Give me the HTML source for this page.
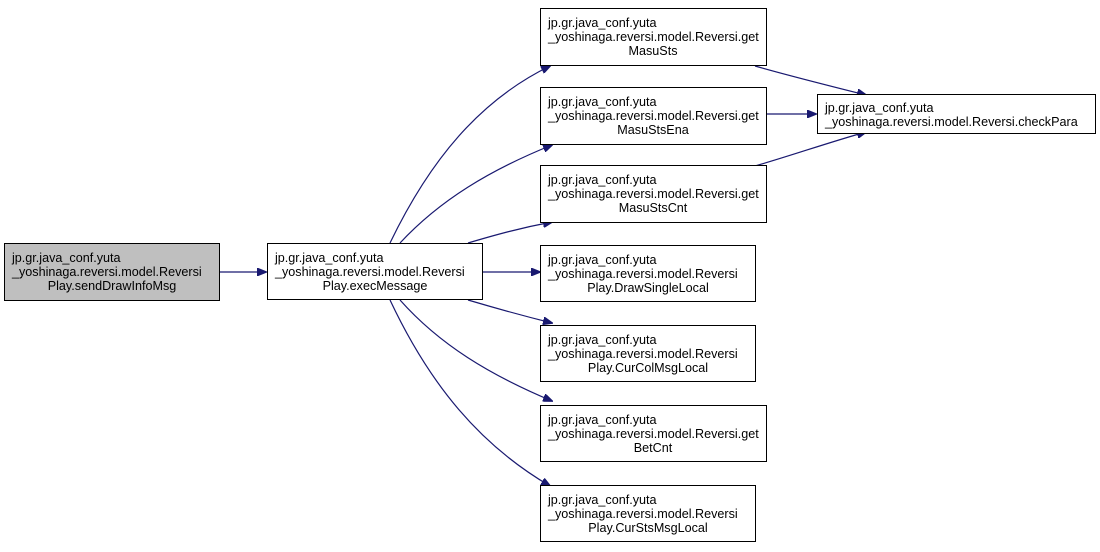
<!DOCTYPE html>
<html><head><meta charset="utf-8"><style>
body{margin:0;background:#fff;width:1100px;height:547px;overflow:hidden}
svg text{font-family:"Liberation Sans",Arial,sans-serif;font-size:12.6px;fill:#000}
</style></head><body>
<svg width="1100" height="547" viewBox="0 0 1100 547">
<defs><marker id="a" markerWidth="10" markerHeight="8" refX="9" refY="4" orient="auto" markerUnits="userSpaceOnUse"><path d="M0,0 L10,4 L0,8 z" fill="#191970" stroke="#191970"/></marker></defs>
<g fill="none" stroke="#191970" stroke-width="1.2" marker-end="url(#a)">
<path d="M220,272 L266,272"/>
<path d="M390,243 C430,160 480,100 550,66"/>
<path d="M400,243 C440,200 490,170 552,145"/>
<path d="M468,243 C495,235 520,228 552,222"/>
<path d="M483,272 L540,272"/>
<path d="M468,300 C495,308 520,315 552,323"/>
<path d="M400,300 C440,345 490,375 552,401"/>
<path d="M390,300 C430,385 480,445 550,486"/>
<path d="M755,66 C790,76 830,86 866,95"/>
<path d="M766,114 L816,114"/>
<path d="M755,166 C790,156 830,142 866,132"/>
</g>
<g stroke="#000" stroke-width="1" fill="#fff">
<rect x="4.5" y="243.5" width="215" height="57" fill="#bfbfbf"/>
<rect x="267.5" y="243.5" width="215" height="56"/>
<rect x="540.5" y="8.5" width="226" height="57"/>
<rect x="540.5" y="87.5" width="226" height="57"/>
<rect x="540.5" y="165.5" width="226" height="57"/>
<rect x="540.5" y="245.5" width="215" height="56"/>
<rect x="540.5" y="325.5" width="215" height="56"/>
<rect x="540.5" y="405.5" width="226" height="56"/>
<rect x="540.5" y="485.5" width="215" height="56"/>
<rect x="817.5" y="94.5" width="278" height="39"/>
</g>
<g>
<text x="12" y="262">jp.gr.java_conf.yuta</text><text x="12" y="276">_yoshinaga.reversi.model.Reversi</text><text x="112" y="290" text-anchor="middle">Play.sendDrawInfoMsg</text>
<text x="275" y="262">jp.gr.java_conf.yuta</text><text x="275" y="276">_yoshinaga.reversi.model.Reversi</text><text x="375" y="290" text-anchor="middle">Play.execMessage</text>
<text x="548" y="27">jp.gr.java_conf.yuta</text><text x="548" y="41">_yoshinaga.reversi.model.Reversi.get</text><text x="653" y="55" text-anchor="middle">MasuSts</text>
<text x="548" y="106">jp.gr.java_conf.yuta</text><text x="548" y="120">_yoshinaga.reversi.model.Reversi.get</text><text x="653" y="134" text-anchor="middle">MasuStsEna</text>
<text x="548" y="184">jp.gr.java_conf.yuta</text><text x="548" y="198">_yoshinaga.reversi.model.Reversi.get</text><text x="653" y="212" text-anchor="middle">MasuStsCnt</text>
<text x="548" y="264">jp.gr.java_conf.yuta</text><text x="548" y="278">_yoshinaga.reversi.model.Reversi</text><text x="648" y="292" text-anchor="middle">Play.DrawSingleLocal</text>
<text x="548" y="344">jp.gr.java_conf.yuta</text><text x="548" y="358">_yoshinaga.reversi.model.Reversi</text><text x="648" y="372" text-anchor="middle">Play.CurColMsgLocal</text>
<text x="548" y="424">jp.gr.java_conf.yuta</text><text x="548" y="438">_yoshinaga.reversi.model.Reversi.get</text><text x="653" y="452" text-anchor="middle">BetCnt</text>
<text x="548" y="504">jp.gr.java_conf.yuta</text><text x="548" y="518">_yoshinaga.reversi.model.Reversi</text><text x="648" y="532" text-anchor="middle">Play.CurStsMsgLocal</text>
<text x="825" y="112">jp.gr.java_conf.yuta</text><text x="825" y="126">_yoshinaga.reversi.model.Reversi.checkPara</text>
</g>
</svg>
</body></html>
